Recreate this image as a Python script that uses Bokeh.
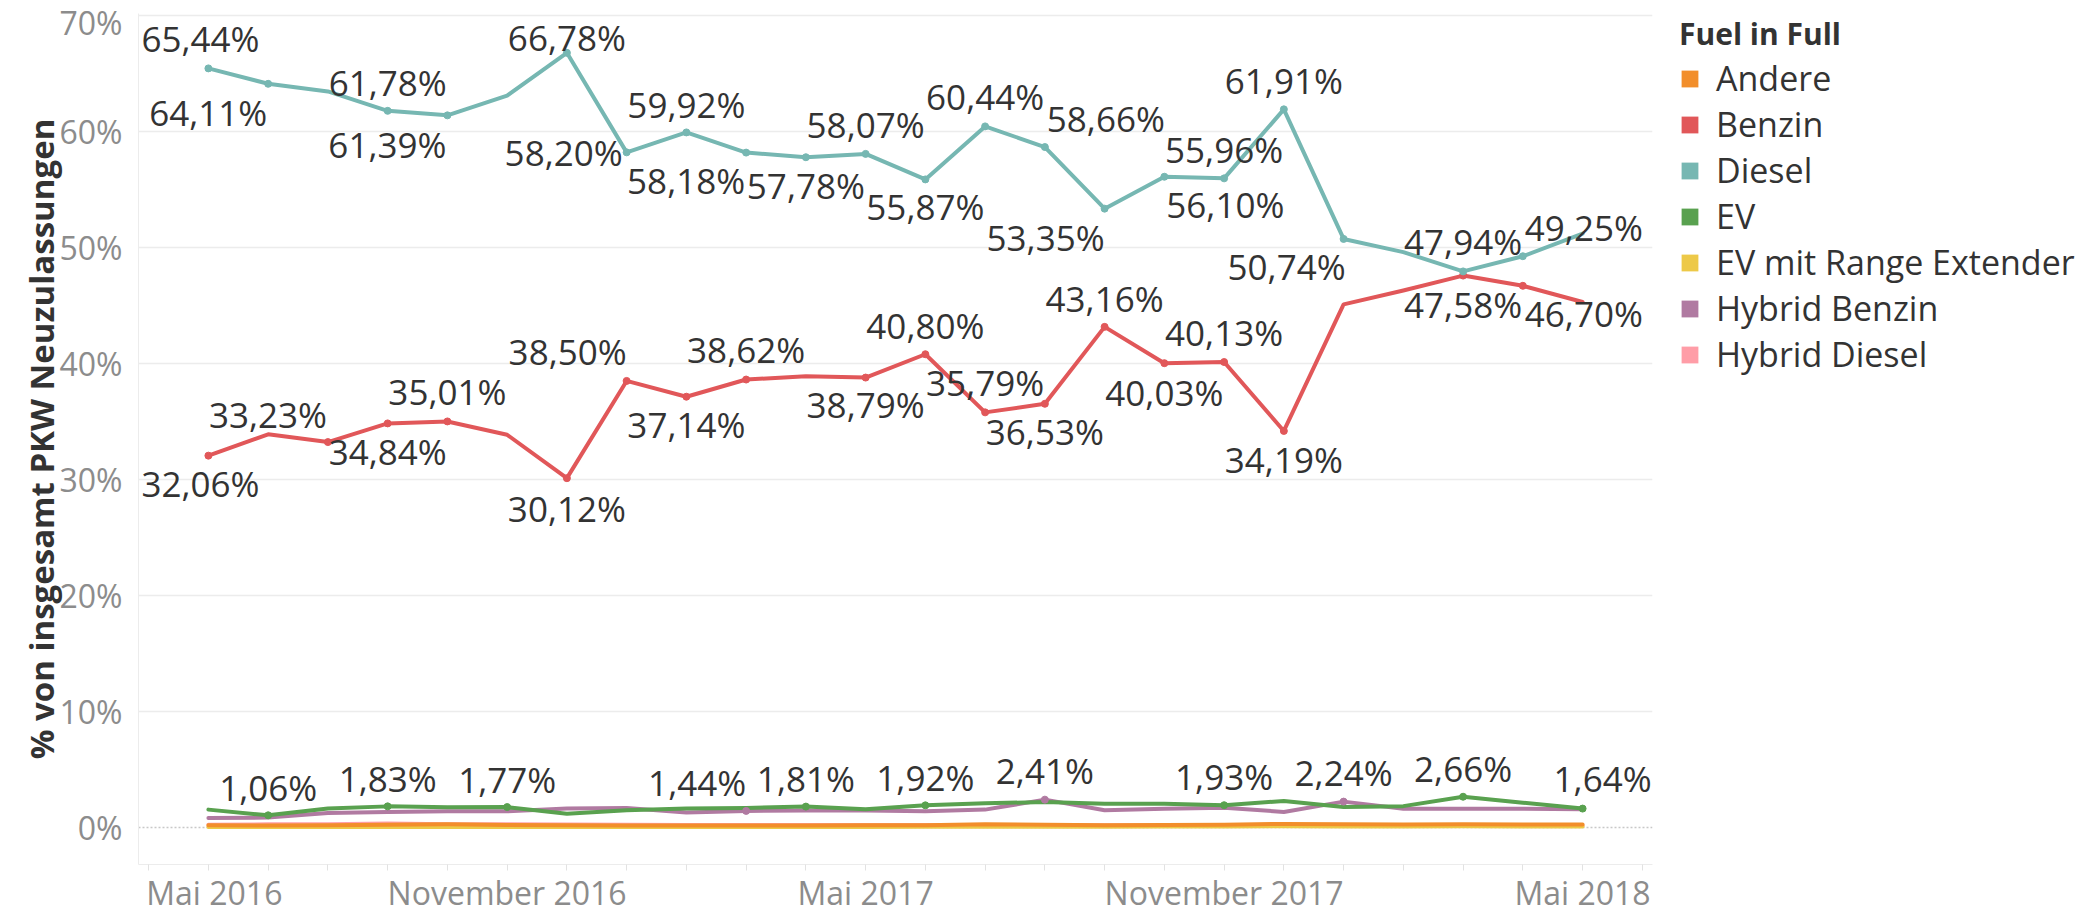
from bokeh.plotting import figure
from bokeh.layouts import row
from bokeh.models import (ColumnDataSource, FixedTicker, Legend, LegendItem, Span,
                          PrintfTickFormatter)
from bokeh.core.properties import value
from bokeh.embed import file_html
from bokeh.resources import INLINE

# ---------------- data ----------------
# axis months (index 0 = Mai 2016 ... index 25 = Juni 2018)
axis_months = ["Mai 2016", "Juni 2016", "Juli 2016", "August 2016", "September 2016",
               "Oktober 2016", "November 2016", "Dezember 2016", "Januar 2017",
               "Februar 2017", "März 2017", "April 2017", "Mai 2017", "Juni 2017",
               "Juli 2017", "August 2017", "September 2017", "Oktober 2017",
               "November 2017", "Dezember 2017", "Januar 2018", "Februar 2018",
               "März 2018", "April 2018", "Mai 2018", "Juni 2018"]
labelled_ticks = ["Mai 2016", "November 2016", "Mai 2017", "November 2017", "Mai 2018"]

# data months: Juni 2016 ... Mai 2018
data_months = axis_months[1:25]

diesel = [65.44, 64.11, 63.45, 61.78, 61.39, 63.10, 66.78, 58.20, 59.92, 58.18, 57.78, 58.07,
          55.87, 60.44, 58.66, 53.35, 56.10, 55.96, 61.91, 50.74, 49.60, 47.94, 49.25, 51.20]
benzin = [32.06, 33.90, 33.23, 34.84, 35.01, 33.86, 30.12, 38.50, 37.14, 38.62, 38.90, 38.79,
          40.80, 35.79, 36.53, 43.16, 40.03, 40.13, 34.19, 45.10, 46.30, 47.58, 46.70, 45.30]
ev = [1.55, 1.06, 1.65, 1.83, 1.75, 1.77, 1.20, 1.50, 1.65, 1.70, 1.81, 1.58,
      1.92, 2.10, 2.20, 2.05, 2.05, 1.93, 2.30, 1.78, 1.85, 2.66, 2.15, 1.64]
hybrid_benzin = [0.82, 0.87, 1.25, 1.35, 1.40, 1.40, 1.65, 1.70, 1.30, 1.44, 1.48, 1.48,
                 1.40, 1.55, 2.41, 1.50, 1.62, 1.72, 1.35, 2.24, 1.62, 1.62, 1.62, 1.58]
andere = [0.20, 0.18, 0.20, 0.25, 0.28, 0.22, 0.20, 0.18, 0.18, 0.18, 0.18, 0.20,
          0.20, 0.30, 0.25, 0.20, 0.22, 0.25, 0.32, 0.28, 0.27, 0.30, 0.27, 0.27]
ev_range_extender = [0.05, 0.05, 0.05, 0.06, 0.06, 0.06, 0.05, 0.05, 0.06, 0.06, 0.06, 0.06,
                     0.07, 0.08, 0.08, 0.08, 0.09, 0.10, 0.12, 0.10, 0.10, 0.11, 0.10, 0.10]
hybrid_diesel = [0.25, 0.28, 0.30, 0.35, 0.30, 0.28, 0.26, 0.24, 0.22, 0.22, 0.22, 0.22,
                 0.22, 0.22, 0.22, 0.20, 0.20, 0.20, 0.20, 0.18, 0.18, 0.18, 0.18, 0.18]

legend_order = ["Andere", "Benzin", "Diesel", "EV", "EV mit Range Extender",
                "Hybrid Benzin", "Hybrid Diesel"]
series_values = {
    "Andere": andere, "Benzin": benzin, "Diesel": diesel, "EV": ev,
    "EV mit Range Extender": ev_range_extender, "Hybrid Benzin": hybrid_benzin,
    "Hybrid Diesel": hybrid_diesel,
}

# ---------------- styles / layout ----------------
colors = {"Andere": "#F28E2B", "Benzin": "#E15759", "Diesel": "#76B7B2", "EV": "#59A14F",
          "EV mit Range Extender": "#EDC948", "Hybrid Benzin": "#B07AA1",
          "Hybrid Diesel": "#FF9DA7"}
draw_order = ["Hybrid Diesel", "EV mit Range Extender", "Andere", "Hybrid Benzin", "EV",
              "Benzin", "Diesel"]

# which points carry a label, with the label's pixel offset from the point (dx, dy down)
label_layout = {
    "Diesel": {0: (-8, -30), 1: (-60, 29), 3: (0, -28), 4: (-60, 29), 6: (0, -15),
               7: (-63, 0), 8: (0, -28), 9: (-60, 28), 10: (0, 28), 11: (0, -29),
               12: (0, 27), 13: (0, -30), 14: (61, -29), 15: (-59, 29), 16: (61, 28),
               17: (0, -29), 18: (0, -29), 19: (-57, 28), 21: (0, -30), 22: (61, -29)},
    "Benzin": {0: (-8, 28), 2: (-60, -28), 3: (0, 28), 4: (0, -30), 6: (0, 30),
               7: (-59, -29), 8: (0, 28), 9: (0, -30), 11: (0, 27), 12: (0, -29),
               13: (0, -30), 14: (0, 28), 15: (0, -28), 16: (0, 29), 17: (0, -30),
               18: (0, 29), 21: (0, 29), 22: (61, 28)},
    "EV": {1: (0, -28), 3: (0, -28), 5: (0, -28), 10: (0, -28), 12: (0, -28),
           17: (0, -29), 21: (0, -28), 23: (20, -30)},
    "Hybrid Benzin": {9: (-49, -28), 14: (0, -29), 19: (0, -29)},
}

FONT = "Open Sans"
MAIN_W, LEG_W, H = 1660, 417, 916
TICK_GREY = "#8c8c8c"
FIRST_LABEL_SHIFT = 1.1   # first month label is pushed inside the plot edge

p = figure(width=MAIN_W, height=H, output_backend="svg", toolbar_location=None,
           x_range=(-0.17, 25.17), y_range=(-3.18, 70.17),
           min_border_left=138, min_border_right=8, min_border_top=10,
           min_border_bottom=0)
p.outline_line_color = None
p.background_fill_color = "white"
p.border_fill_color = "white"

# zero line (dotted) under everything
zero = Span(location=0, dimension="width", line_color="#c8c8c8", line_dash="2 2",
            line_width=1.5, level="underlay")
p.add_layout(zero)

xs_all = {m: i for i, m in enumerate(axis_months)}
x_data = [xs_all[m] for m in data_months]

for name in draw_order:
    vals = series_values[name]
    src = ColumnDataSource(dict(x=x_data, y=vals))
    p.line("x", "y", source=src, line_color=colors[name], line_width=4,
           line_join="round", line_cap="round")

# markers + labels
for name in draw_order:
    if name not in label_layout:
        continue
    vals = series_values[name]
    lay = label_layout[name]
    idx = sorted(lay)
    src = ColumnDataSource(dict(
        x=[x_data[i] for i in idx],
        y=[vals[i] for i in idx],
        text=[("%.2f%%" % vals[i]).replace(".", ",") for i in idx],
        dx=[lay[i][0] for i in idx],
        dy=[lay[i][1] for i in idx],
    ))
    p.scatter("x", "y", source=src, size=7, color=colors[name])
    p.text("x", "y", text="text", source=src, x_offset="dx", y_offset="dy",
           text_font=value(FONT), text_font_size="35px", text_color="#333333",
           text_align="center", text_baseline="middle")

# grid
p.xgrid.grid_line_color = None
p.ygrid.ticker = FixedTicker(ticks=[10, 20, 30, 40, 50, 60, 70])
p.ygrid.grid_line_color = "#ececec"
p.ygrid.grid_line_width = 1.5

# y axis
p.yaxis.ticker = FixedTicker(ticks=[0, 10, 20, 30, 40, 50, 60, 70])
p.yaxis.formatter = PrintfTickFormatter(format="%d%%")
p.yaxis.axis_label = "% von insgesamt PKW Neuzulassungen"
p.yaxis.axis_label_text_font = FONT
p.yaxis.axis_label_text_font_size = "33px"
p.yaxis.axis_label_text_font_style = "bold"
p.yaxis.axis_label_text_color = "#333333"
p.yaxis.axis_label_standoff = -8
p.yaxis.major_label_text_font = FONT
p.yaxis.major_label_text_font_size = "32px"
p.yaxis.major_label_text_color = TICK_GREY
p.yaxis.major_label_standoff = 10
p.yaxis.major_tick_line_color = None
p.yaxis.minor_tick_line_color = None
p.yaxis.axis_line_color = "#ececec"

# x axis: every month gets a small tick, every 6th month a label
label_pos = []
overrides = {}
for m in labelled_ticks:
    pos = xs_all[m]
    if m == labelled_ticks[0]:
        pos = pos + FIRST_LABEL_SHIFT
    label_pos.append(pos)
    overrides[pos] = m
p.xaxis.ticker = FixedTicker(ticks=label_pos, minor_ticks=list(range(len(axis_months))))
p.xaxis.major_label_overrides = overrides
p.xaxis.major_label_text_font = FONT
p.xaxis.major_label_text_font_size = "32px"
p.xaxis.major_label_text_color = TICK_GREY
p.xaxis.major_label_standoff = 0
p.xaxis.major_tick_in = 0
p.xaxis.major_tick_out = 6
p.xaxis.major_tick_line_color = None
p.xaxis.minor_tick_in = 0
p.xaxis.minor_tick_out = 6
p.xaxis.minor_tick_line_color = "#e2e2e2"
p.xaxis.axis_line_color = "#ececec"

# legend panel: a figure of its own, with square swatches
pl = figure(width=LEG_W, height=H, output_backend="svg", toolbar_location=None,
            x_axis_type=None, y_axis_type=None, x_range=(0, 1), y_range=(0, 1),
            min_border_left=19, min_border_top=13, min_border_right=0,
            min_border_bottom=0)
pl.outline_line_color = None
pl.background_fill_color = "white"
pl.border_fill_color = "white"
nan = float("nan")
items = []
for name in legend_order:
    r = pl.quad(left=[nan], right=[nan], top=[nan], bottom=[nan],
                fill_color=colors[name], line_color=None)
    items.append(LegendItem(label=name, renderers=[r]))
legend = Legend(items=items, title="Fuel in Full", location="top_left",
                margin=0, padding=0, spacing=0, label_height=46,
                glyph_width=21, glyph_height=21, label_standoff=16,
                title_standoff=1,
                label_text_font=FONT, label_text_font_size="34px",
                label_text_color="#333333",
                title_text_font=FONT, title_text_font_size="30px",
                title_text_font_style="bold", title_text_color="#333333",
                border_line_color=None, background_fill_alpha=0)
pl.add_layout(legend)

layout = row(p, pl, spacing=0)
open("out.html", "w").write(file_html(layout, INLINE))
